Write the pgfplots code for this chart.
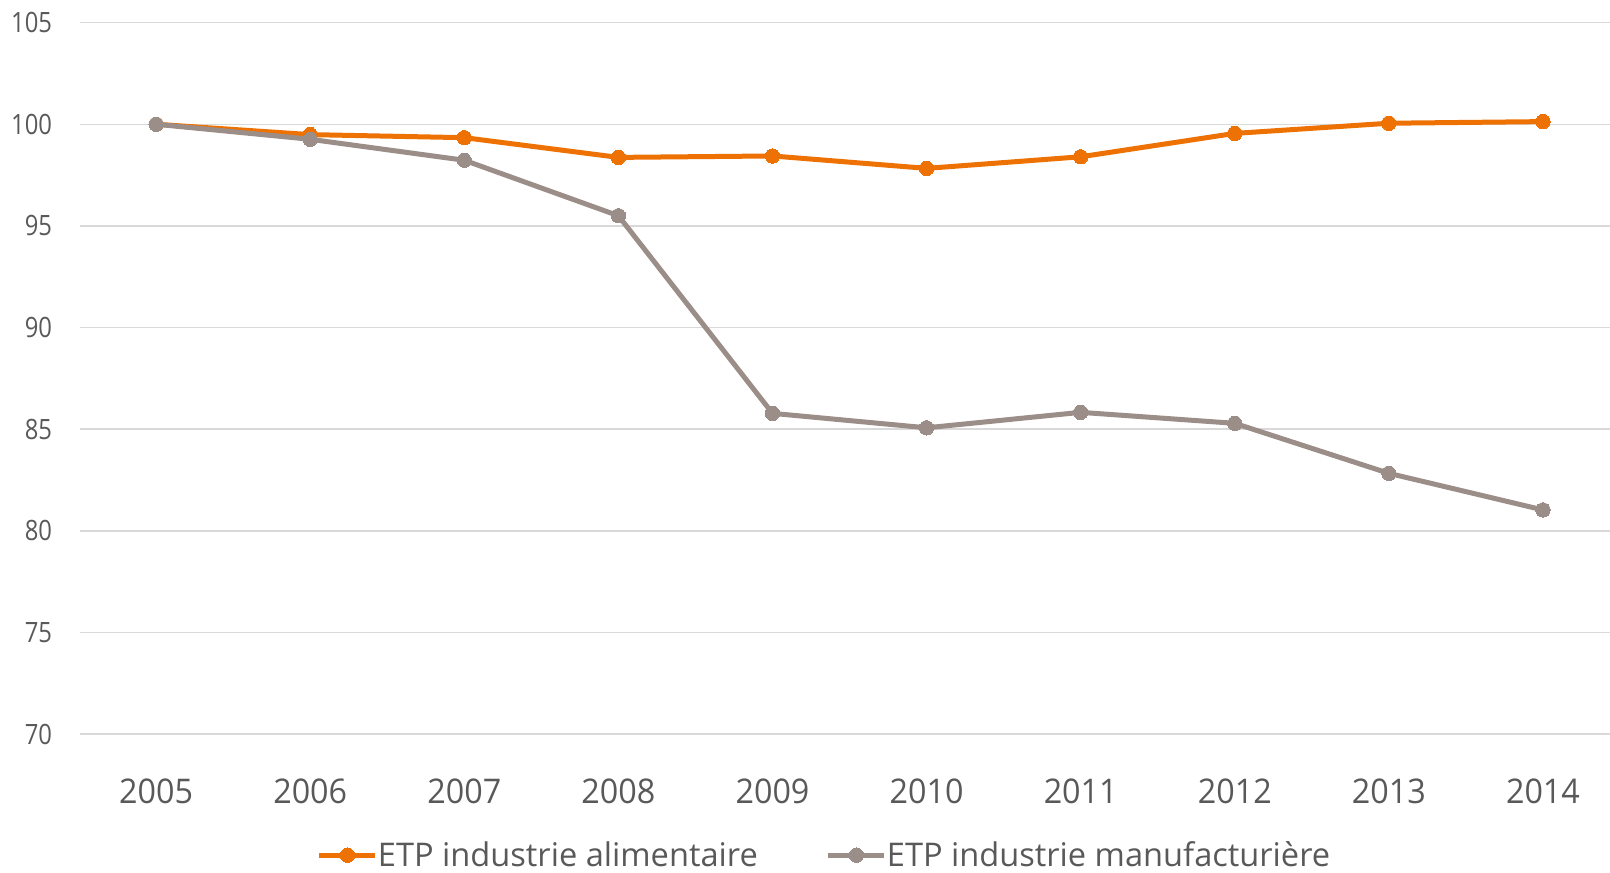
\documentclass[border=0pt]{standalone}
\usepackage{fontspec}
\setmainfont{Open Sans}
\newfontfamily\ytickfont{Open Sans}[FakeStretch=0.85]
\newfontfamily\xtickfont{Open Sans}[FakeStretch=0.95]
\usepackage{pgfplots}
\pgfplotsset{compat=1.18}
\definecolor{orangeS}{RGB}{237,114,3}
\definecolor{grayS}{RGB}{155,141,136}
\definecolor{gridS}{RGB}{217,217,217}
\definecolor{textS}{RGB}{89,89,89}
\begin{document}
\begin{tikzpicture}
\begin{axis}[
  scale only axis, width=765pt, height=355.8pt,
  xmin=-0.494, xmax=9.435, ymin=70, ymax=105,
  ytick={70,75,...,105},
  xtick={0,...,9}, xticklabels={2005,2006,2007,2008,2009,2010,2011,2012,2013,2014},
  axis line style={draw=none}, major tick length=0pt,
  ymajorgrids, grid style={draw=gridS, line width=0.75pt},
  /pgf/number format/assume math mode=true,
  yticklabel style={font=\ytickfont\fontsize{14}{16}\selectfont, text=textS, anchor=east, inner sep=0pt, xshift=-13.8pt},
  xticklabel style={font=\xtickfont\fontsize{17}{20}\selectfont, text=textS, anchor=base, inner sep=0pt, yshift=-34.5pt},
  legend columns=2,
  legend style={at={(0.4873,-0.17)}, anchor=center, draw=none, fill=none,
    font=\fontsize{16.3}{18}\selectfont, text=textS,
    /tikz/every even column/.append style={column sep=32pt},
    /tikz/every odd column/.append style={column sep=-2pt},
    cells={anchor=west, inner sep=1pt}},
  legend image code/.code={\draw[#1, mark repeat=2, mark phase=2] plot coordinates {(0pt,0pt)(14pt,0pt)(28pt,0pt)};},
]
\addplot[orangeS, line width=2.5pt, mark=*, mark size=3.6pt, mark options={solid, fill=orangeS, draw=orangeS, line width=0pt}]
  coordinates {(0,100) (1,99.49) (2,99.34) (3,98.37) (4,98.44) (5,97.83) (6,98.40) (7,99.55) (8,100.05) (9,100.13)};
\addlegendentry{ETP industrie alimentaire}
\addplot[grayS, line width=2.5pt, mark=*, mark size=3.6pt, mark options={solid, fill=grayS, draw=grayS, line width=0pt}]
  coordinates {(0,100) (1,99.26) (2,98.23) (3,95.5) (4,85.78) (5,85.07) (6,85.83) (7,85.29) (8,82.83) (9,81.03)};
\addlegendentry{ETP industrie manufacturière}
\end{axis}
\pgfresetboundingbox
\path ([xshift=-40pt,yshift=-69.4pt]current axis.south west) rectangle ([yshift=11.3pt]current axis.north east);
\end{tikzpicture}
\end{document}
